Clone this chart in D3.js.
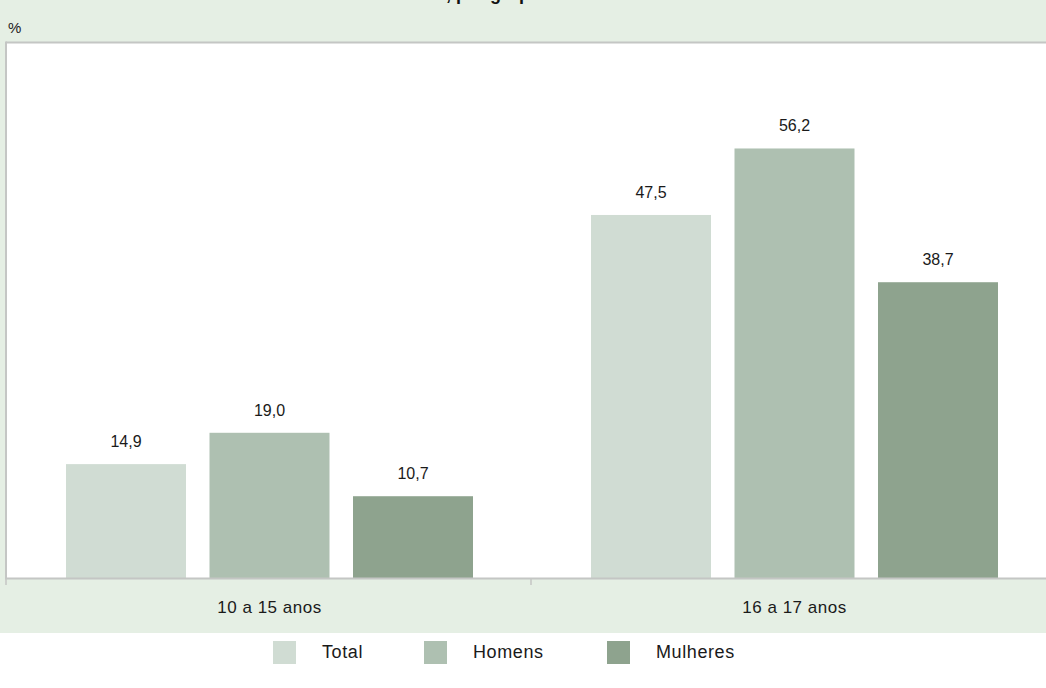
<!DOCTYPE html>
<html><head><meta charset="utf-8">
<script src="https://cdn.jsdelivr.net/npm/d3@7"></script>
<style>
html,body{margin:0;padding:0;background:#fff;overflow:hidden}
svg{display:block;font-family:"Liberation Sans",Arial,sans-serif}
</style></head>
<body>
<svg id="chart" width="1046" height="688"></svg>
<script>
const categories = ["10 a 15 anos", "16 a 17 anos"];
const seriesNames = ["Total", "Homens", "Mulheres"];
const totalValues = [14.9, 47.5];
const homensValues = [19.0, 56.2];
const mulheresValues = [10.7, 38.7];
const seriesColors = ["#d0dcd3", "#aec0b1", "#8ea38e"];
const yDomain = [0, 70];
const titleLines = [
  "Taxa de realização de afazeres domésticos e/ou de cuidados de pessoas",
  "dos adolescentes de 10 a 17 anos de idade, por grupos de idade"
];

const svg = d3.select("#chart");
const W = 1046;
const plot = {left: 7, right: 1057, top: 43, bottom: 578};

// background
svg.append("rect").attr("x", 0).attr("y", 0).attr("width", W).attr("height", 633).attr("fill", "#e5efe4");

// title (cut off at the top edge, as in the reference)
const title = svg.append("text").attr("font-size", 18).attr("font-weight", "bold").attr("fill", "#111");
title.append("tspan").attr("y", -24).text(titleLines[0]);
const t2 = title.append("tspan").attr("y", -0.5).text(titleLines[1]);
let pre = 330;
try { pre = t2.node().getSubStringLength(0, titleLines[1].indexOf(",")); } catch (e) {}
title.selectAll("tspan").attr("x", 446 - pre);

// % label
svg.append("text").attr("x", 8).attr("y", 33).attr("font-size", 15).attr("fill", "#222").text("%");

// plot area
svg.append("rect").attr("x", plot.left).attr("y", plot.top).attr("width", plot.right - plot.left)
  .attr("height", plot.bottom - plot.top).attr("fill", "#fff");
svg.append("line").attr("x1", plot.left - 1).attr("x2", W).attr("y1", plot.top - 0.5).attr("y2", plot.top - 0.5)
  .attr("stroke", "#c4c6c4").attr("stroke-width", 2);
svg.append("line").attr("x1", plot.left - 1).attr("x2", plot.left - 1).attr("y1", plot.top - 1.5).attr("y2", plot.bottom)
  .attr("stroke", "#c4c6c4").attr("stroke-width", 2);

const x0 = d3.scaleBand().domain(categories).range([plot.left, plot.right]).paddingInner(0).paddingOuter(0);
const x1 = d3.scaleBand().domain(seriesNames).range([59, x0.bandwidth() - 59]).paddingInner(23.5 / 143.5).paddingOuter(0);
const y = d3.scaleLinear().domain(yDomain).range([plot.bottom, plot.top]);
const color = d3.scaleOrdinal().domain(seriesNames).range(seriesColors);

const data = categories.map((c, i) => ({
  cat: c,
  vals: [
    {s: "Total", v: totalValues[i]},
    {s: "Homens", v: homensValues[i]},
    {s: "Mulheres", v: mulheresValues[i]}
  ]
}));

const fmt = v => d3.format(".1f")(v).replace(".", ",");

const g = svg.selectAll("g.grp").data(data).join("g").attr("class", "grp")
  .attr("transform", d => `translate(${x0(d.cat)},0)`);
g.selectAll("rect").data(d => d.vals).join("rect")
  .attr("x", d => x1(d.s)).attr("width", x1.bandwidth())
  .attr("y", d => y(d.v)).attr("height", d => y(0) - y(d.v))
  .attr("fill", d => color(d.s));
g.selectAll("text").data(d => d.vals).join("text")
  .attr("x", d => x1(d.s) + x1.bandwidth() / 2).attr("y", d => y(d.v) - 17)
  .attr("text-anchor", "middle").attr("font-size", 16).attr("fill", "#1a1a1a")
  .text(d => fmt(d.v));

// x axis
const ax = svg.append("g").attr("transform", `translate(0,${plot.bottom})`)
  .call(d3.axisBottom(x0).tickSize(0).tickFormat(""));
ax.select(".domain").remove();
ax.selectAll(".tick").remove();
svg.append("line").attr("x1", plot.left - 2).attr("x2", W).attr("y1", plot.bottom + 0.5).attr("y2", plot.bottom + 0.5)
  .attr("stroke", "#c4c6c4").attr("stroke-width", 2);
svg.selectAll("line.tk").data(categories).join("line").attr("class", "tk")
  .attr("x1", d => x0(d) - 1).attr("x2", d => x0(d) - 1).attr("y1", plot.bottom).attr("y2", plot.bottom + 7)
  .attr("stroke", "#c4c6c4").attr("stroke-width", 1.5);
svg.selectAll("text.cat").data(categories).join("text").attr("class", "cat")
  .attr("x", d => x0(d) + x0.bandwidth() / 2).attr("y", 613)
  .attr("text-anchor", "middle").attr("font-size", 17).attr("letter-spacing", 0.5)
  .attr("fill", "#1a1a1a").text(d => d);

// legend
const legX = [273, 424, 607];
const leg = svg.selectAll("g.leg").data(seriesNames).join("g").attr("class", "leg")
  .attr("transform", (d, i) => `translate(${legX[i]},641)`);
leg.append("rect").attr("width", 23).attr("height", 23).attr("fill", d => color(d));
leg.append("text").attr("x", 49).attr("y", 16.5).attr("font-size", 18).attr("letter-spacing", 0.6)
  .attr("fill", "#1a1a1a").text(d => d);
</script>
</body></html>
